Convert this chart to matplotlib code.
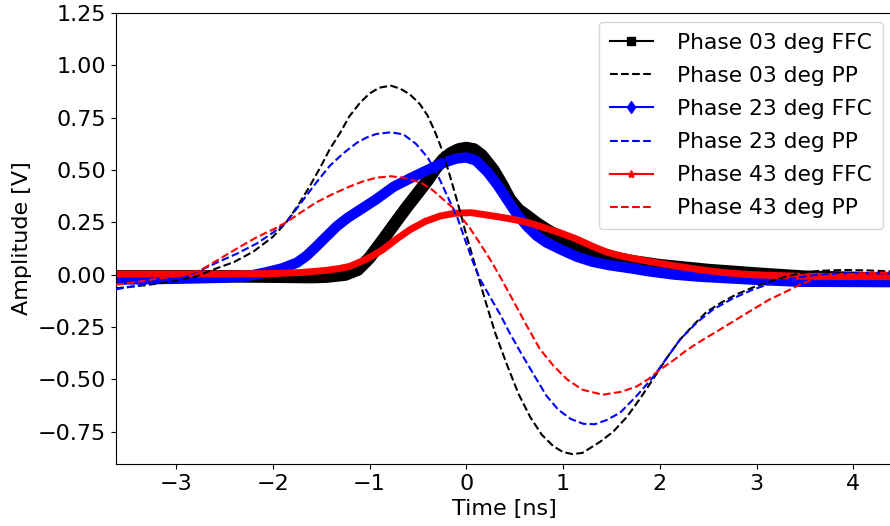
import matplotlib
matplotlib.use("Agg")
import matplotlib.pyplot as plt
from matplotlib.lines import Line2D

t_ffc03 = [-3.62, -3.0, -2.5, -2.0, -1.6, -1.45, -1.35, -1.25, -1.12, -1.0, -0.86, -0.73, -0.61,
           -0.50, -0.40, -0.32, -0.24, -0.16, -0.08, 0.0, 0.08, 0.16, 0.28, 0.37, 0.45, 0.54,
           0.63, 0.73, 0.83, 1.0, 1.14, 1.3, 1.48, 1.7, 2.0, 2.5, 3.0, 3.5, 4.4]
v_ffc03 = [-0.008, -0.008, -0.008, -0.01, -0.012, -0.01, -0.005, 0.0, 0.024, 0.08, 0.167, 0.25, 0.325,
           0.39, 0.45, 0.505, 0.55, 0.58, 0.598, 0.605, 0.598, 0.57, 0.50, 0.43, 0.36, 0.31,
           0.28, 0.245, 0.215, 0.17, 0.134, 0.108, 0.086, 0.065, 0.045, 0.022, 0.005, -0.01, -0.02]

# Phase 03 deg, PP
t_pp03 = [-3.62, -3.3, -3.0, -2.8, -2.58, -2.4, -2.2, -2.0, -1.86, -1.74, -1.62, -1.5, -1.41,
          -1.3, -1.21, -1.1, -1.0, -0.9, -0.78, -0.68, -0.58, -0.48, -0.40, -0.33, -0.27, -0.18,
          -0.09, 0.0, 0.1, 0.2, 0.3, 0.42, 0.54, 0.66, 0.78, 0.90, 1.0, 1.10, 1.2, 1.38, 1.52,
          1.66, 1.8, 1.93, 2.07, 2.21, 2.35, 2.48, 2.63, 2.79, 2.96, 3.13, 3.3, 3.47, 3.65, 3.9,
          4.15, 4.4]
v_pp03 = [-0.065, -0.05, -0.028, -0.01, 0.03, 0.06, 0.11, 0.18, 0.25, 0.33, 0.42, 0.52, 0.60,
          0.68, 0.755, 0.82, 0.865, 0.893, 0.903, 0.888, 0.86, 0.815, 0.76, 0.69, 0.62, 0.49,
          0.345, 0.19, 0.03, -0.13, -0.28, -0.43, -0.57, -0.68, -0.765, -0.82, -0.848, -0.858,
          -0.852, -0.80, -0.75, -0.68, -0.59, -0.50, -0.40, -0.31, -0.24, -0.18, -0.135, -0.095,
          -0.062, -0.034, -0.01, 0.008, 0.018, 0.022, 0.02, 0.015]

# Phase 23 deg, FFC
t_ffc23 = [-3.62, -3.0, -2.5, -2.3, -2.18, -2.06, -1.9, -1.75, -1.65, -1.55, -1.45, -1.34, -1.23,
           -1.13, -1.03, -0.93, -0.75, -0.58, -0.40, -0.23, -0.1, 0.0, 0.1, 0.22, 0.32, 0.42,
           0.52, 0.63, 0.73, 0.83, 1.0, 1.14, 1.3, 1.48, 1.7, 1.9, 2.15, 2.41, 3.0, 3.44, 4.4]
v_ffc23 = [-0.024, -0.02, -0.015, -0.01, 0.0, 0.012, 0.03, 0.057, 0.09, 0.134, 0.18, 0.23, 0.27,
           0.30, 0.33, 0.36, 0.42, 0.46, 0.50, 0.535, 0.555, 0.56, 0.545, 0.49, 0.43, 0.36,
           0.29, 0.23, 0.185, 0.153, 0.115, 0.086, 0.062, 0.045, 0.03, 0.015, 0.0, -0.01, -0.025,
           -0.034, -0.036]

# Phase 23 deg, PP
t_pp23 = [-3.62, -3.3, -2.92, -2.75, -2.58, -2.37, -2.16, -2.0, -1.86, -1.68, -1.55, -1.41, -1.27,
          -1.13, -1.03, -0.93, -0.78, -0.65, -0.52, -0.40, -0.3, -0.2, -0.09, 0.0, 0.07, 0.14,
          0.25, 0.35, 0.45, 0.56, 0.7, 0.83, 0.95, 1.08, 1.21, 1.33, 1.45, 1.59, 1.76, 1.93,
          2.07, 2.21, 2.38, 2.55, 2.75, 2.96, 3.13, 3.31, 3.48, 3.65, 4.0, 4.4]
v_pp23 = [-0.07, -0.045, -0.014, 0.02, 0.057, 0.10, 0.15, 0.2, 0.25, 0.36, 0.44, 0.52, 0.58,
          0.63, 0.655, 0.672, 0.68, 0.67, 0.625, 0.56, 0.48, 0.38, 0.27, 0.15, 0.06, -0.02,
          -0.11, -0.19, -0.28, -0.37, -0.48, -0.58, -0.645, -0.69, -0.713, -0.715, -0.695, -0.66,
          -0.58, -0.49, -0.40, -0.31, -0.23, -0.167, -0.115, -0.072, -0.045, -0.024, -0.01, 0.0,
          0.008, 0.005]

# Phase 43 deg, FFC
t_ffc43 = [-3.62, -3.0, -2.5, -2.0, -1.71, -1.45, -1.3, -1.2, -1.05, -0.95, -0.86, -0.72, -0.58,
           -0.42, -0.27, -0.12, 0.05, 0.28, 0.45, 0.63, 0.8, 0.97, 1.14, 1.31, 1.45, 1.59, 1.75,
           1.9, 2.15, 2.41, 2.65, 2.93, 3.44, 4.4]
v_ffc43 = [0.003, 0.003, 0.003, 0.005, 0.01, 0.02, 0.03, 0.04, 0.07, 0.095, 0.12, 0.17, 0.215,
           0.255, 0.28, 0.293, 0.296, 0.28, 0.267, 0.25, 0.225, 0.20, 0.17, 0.134, 0.108, 0.09,
           0.075, 0.062, 0.042, 0.024, 0.01, 0.0, -0.008, -0.01]

# Phase 43 deg, PP
t_pp43 = [-3.62, -3.4, -3.2, -2.95, -2.75, -2.55, -2.35, -2.16, -2.0, -1.86, -1.7, -1.55, -1.38,
          -1.21, -1.07, -0.93, -0.78, -0.63, -0.47, -0.35, -0.24, -0.14, -0.06, 0.04, 0.14,
          0.25, 0.35, 0.48, 0.62, 0.76, 0.9, 1.04, 1.2, 1.41, 1.6, 1.76, 1.88, 2.0, 2.14, 2.28,
          2.45, 2.62, 2.79, 2.96, 3.13, 3.31, 3.44, 3.55, 3.7, 3.9, 4.15, 4.4]
v_pp43 = [-0.048, -0.035, -0.02, -0.005, 0.02, 0.075, 0.13, 0.18, 0.215, 0.25, 0.30, 0.345, 0.385,
          0.42, 0.445, 0.463, 0.47, 0.462, 0.44, 0.405, 0.36, 0.32, 0.28, 0.22, 0.15, 0.07,
          -0.01, -0.12, -0.24, -0.355, -0.435, -0.50, -0.55, -0.574, -0.56, -0.535, -0.50,
          -0.455, -0.41, -0.36, -0.31, -0.263, -0.215, -0.167, -0.12, -0.08, -0.05, -0.03,
          -0.01, 0.0, 0.008, 0.01]

plt.rcParams['font.size'] = 16

fig = plt.figure(figsize=(8.9, 5.26), dpi=100)
ax = fig.add_axes([116 / 890, 62 / 526, 776 / 890, 451 / 526])

# FFC traces are very dense in the original, so draw them as thick bands
ax.plot(t_ffc03, v_ffc03, color='black', lw=9, solid_capstyle='butt', zorder=2)
ax.plot(t_ffc23, v_ffc23, color='blue', lw=7.5, solid_capstyle='butt', zorder=2)
ax.plot(t_ffc43, v_ffc43, color='red', lw=5, solid_capstyle='butt', zorder=2)

ax.plot(t_pp03, v_pp03, color='black', ls='--', lw=1.5, zorder=3)
ax.plot(t_pp23, v_pp23, color='blue', ls='--', lw=1.5, zorder=3)
ax.plot(t_pp43, v_pp43, color='red', ls='--', lw=1.5, zorder=3)

ax.set_xlim(-3.62, 4.4)
ax.set_ylim(-0.905, 1.25)
ax.set_yticks([-0.75, -0.5, -0.25, 0.0, 0.25, 0.5, 0.75, 1.0, 1.25])
ax.set_xlabel('Time [ns]')
ax.set_ylabel('Amplitude [V]')

handles = [
    Line2D([], [], color='black', marker='s', ms=6, lw=1.5),
    Line2D([], [], color='black', ls='--', lw=1.5),
    Line2D([], [], color='blue', marker='d', ms=6, lw=1.5),
    Line2D([], [], color='blue', ls='--', lw=1.5),
    Line2D([], [], color='red', marker='*', ms=6, lw=1.5),
    Line2D([], [], color='red', ls='--', lw=1.5),
]
labels = ['Phase 03 deg FFC', 'Phase 03 deg PP', 'Phase 23 deg FFC',
          'Phase 23 deg PP', 'Phase 43 deg FFC', 'Phase 43 deg PP']
ax.legend(handles, labels, loc='upper right', bbox_to_anchor=(883 / 890, 1 - 22 / 526),
          bbox_transform=fig.transFigure, borderaxespad=0, fontsize=15.7,
          handletextpad=1.1, labelspacing=0.6, borderpad=0.5)

fig.savefig('out.png', dpi=100)
